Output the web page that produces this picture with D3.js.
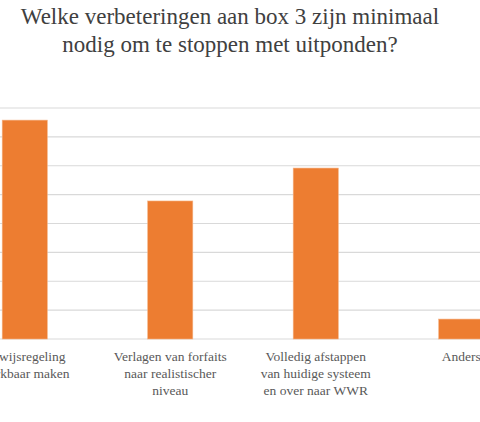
<!DOCTYPE html><html><head><meta charset="utf-8"><script src="https://cdn.jsdelivr.net/npm/d3@7"></script>
<style>body{margin:0;background:#fff} text{font-family:'Liberation Serif','DejaVu Serif',serif}</style></head><body><svg id="c" width="480" height="422"></svg>
<script>
const categories=[["Bewijsregeling","werkbaar maken"],["Verlagen van forfaits","naar realistischer","niveau"],["Volledig afstappen","van huidige systeem","en over naar WWR"],["Anders"]];
const values=[7.58,4.78,5.92,0.69];
const ticks=[0,1,2,3,4,5,6,7,8];
const titleLines=["Welke verbeteringen aan box 3 zijn minimaal","nodig om te stoppen met uitponden?"];
const svg=d3.select("#c");
const x=d3.scaleBand().domain(d3.range(4)).range([-48,534]).paddingInner(0.69).paddingOuter(0.345);
const y=d3.scaleLinear().domain([0,8]).range([339,108]);
svg.append("g").selectAll("line").data(ticks).join("line")
 .attr("x1",0).attr("x2",480).attr("y1",d=>y(d)).attr("y2",d=>y(d))
 .attr("stroke","#d9d9d9").attr("stroke-width",1.2);
svg.append("g").selectAll("rect").data(values).join("rect")
 .attr("x",(d,i)=>x(i)).attr("width",x.bandwidth()).attr("y",d=>y(d)).attr("height",d=>y(0)-y(d))
 .attr("fill","#ed7d31").attr("stroke","#f4b183").attr("stroke-width",0.6);
const lab=svg.append("g").attr("font-size",13.5).attr("fill","#595959").attr("text-anchor","middle");
categories.forEach((c,i)=>{c.forEach((t,j)=>lab.append("text").attr("x",x(i)+x.bandwidth()/2).attr("y",361+j*17).text(t));});
svg.append("g").selectAll("text").data(titleLines).join("text")
 .attr("x",230).attr("y",(d,i)=>24+i*28).attr("text-anchor","middle")
 .attr("font-size",23).attr("fill","#404040").text(d=>d);
</script></body></html>
